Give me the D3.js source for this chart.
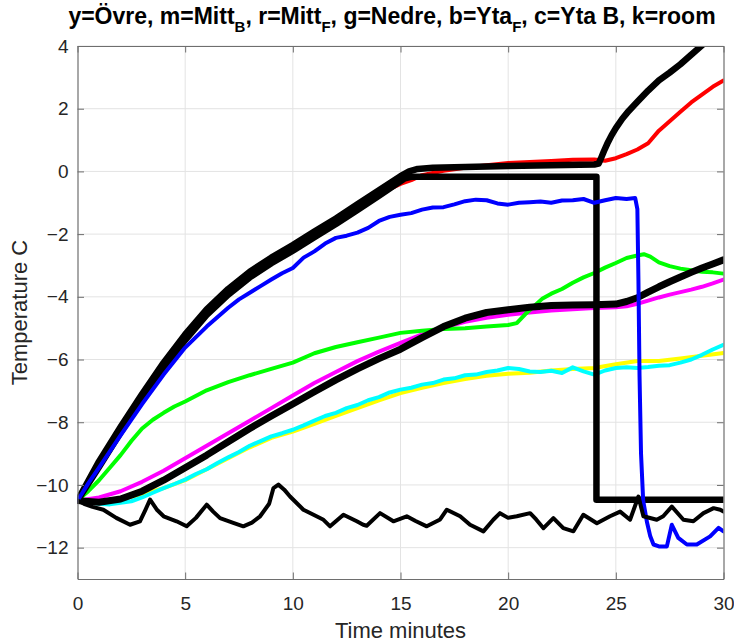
<!DOCTYPE html>
<html lang="en">
<head>
<meta charset="UTF-8">
<title>Temperature</title>
<script src="https://cdn.jsdelivr.net/npm/d3@7"></script>
<style>
    body { margin: 0; background: white; }
    svg { display: block; font-family: "Liberation Sans", Arial, sans-serif; }
    .tick text { fill: #262626; font-size: 19px; }
</style>
</head>
<body>
<script>
    // ---------- data (time in minutes, temperature in C) ----------
    const xTicks = [0, 5, 10, 15, 20, 25, 30];
    const yTicks = [-12, -10, -8, -6, -4, -2, 0, 2, 4];

    // y = Övre
    const yellowT = [0, 1, 2, 3, 4, 5, 6, 7, 8, 9, 10, 11, 12, 13, 14, 15, 16, 17, 18, 19, 20, 21, 22, 23, 24, 25, 26, 27, 28, 29, 30];
    const yellowV = [-10.5, -10.52, -10.45, -10.3, -10.1, -9.85, -9.5, -9.15, -8.8, -8.5, -8.3, -8.05, -7.8, -7.55, -7.3, -7.07, -6.9, -6.75, -6.62, -6.52, -6.45, -6.42, -6.35, -6.3, -6.27, -6.15, -6.05, -6.05, -5.97, -5.88, -5.79];

    // c = Yta B
    const cyanT = [0, 0.5, 1, 1.5, 2, 2.5, 3, 3.5, 4, 4.5, 5, 5.5, 6, 6.5, 7, 7.5, 8, 8.5, 9, 9.5, 10, 10.5, 11, 11.5, 12, 12.5, 13, 13.5, 14, 14.5, 15, 15.5, 16, 16.5, 17, 17.5, 18, 18.5, 19, 19.5, 20, 20.5, 21, 21.5, 22, 22.5, 23, 23.5, 24, 24.5, 25, 25.5, 26, 26.5, 27, 27.5, 28, 28.5, 29, 29.5, 30];
    const cyanV = [-10.5, -10.55, -10.6, -10.62, -10.57, -10.52, -10.4, -10.25, -10.1, -9.97, -9.83, -9.65, -9.5, -9.3, -9.12, -8.95, -8.75, -8.6, -8.45, -8.35, -8.24, -8.1, -7.95, -7.8, -7.7, -7.55, -7.45, -7.3, -7.2, -7.05, -6.96, -6.9, -6.8, -6.75, -6.64, -6.6, -6.5, -6.48, -6.4, -6.35, -6.27, -6.3, -6.38, -6.4, -6.36, -6.43, -6.25, -6.38, -6.48, -6.35, -6.27, -6.25, -6.27, -6.24, -6.2, -6.18, -6.1, -6.0, -5.85, -5.68, -5.53];

    // m = Mitt_B
    const magentaT = [0, 1, 2, 3, 4, 5, 6, 7, 8, 9, 10, 11, 12, 13, 14, 15, 16, 17, 18, 19, 20, 21, 22, 23, 24, 25, 25.5, 26, 26.5, 27, 27.5, 28, 28.5, 29, 29.5, 30];
    const magentaV = [-10.5, -10.4, -10.2, -9.9, -9.55, -9.15, -8.75, -8.35, -7.95, -7.55, -7.15, -6.75, -6.4, -6.05, -5.75, -5.47, -5.2, -4.98, -4.8, -4.67, -4.57, -4.5, -4.44, -4.4, -4.36, -4.33, -4.3, -4.22, -4.12, -4.02, -3.93, -3.85, -3.77, -3.68, -3.57, -3.45];

    // g = Nedre
    const greenT = [0, 0.5, 1, 1.5, 2, 2.5, 3, 3.5, 4, 4.5, 5, 6, 7, 8, 9, 10, 11, 12, 13, 14, 15, 16, 17, 18, 19, 20, 20.4, 20.8, 21.2, 21.6, 22, 22.5, 23, 23.5, 24, 24.5, 25, 25.5, 26, 26.3, 26.6, 27, 27.5, 28, 28.5, 29, 29.5, 30];
    const greenV = [-10.5, -10.2, -9.85, -9.45, -9.05, -8.6, -8.2, -7.92, -7.7, -7.5, -7.34, -6.98, -6.72, -6.5, -6.3, -6.1, -5.8, -5.6, -5.45, -5.3, -5.15, -5.08, -5.03, -5.0, -4.95, -4.9, -4.84, -4.55, -4.3, -4.05, -3.9, -3.75, -3.55, -3.38, -3.24, -3.07, -2.92, -2.76, -2.68, -2.64, -2.72, -2.9, -3.02, -3.1, -3.15, -3.2, -3.22, -3.26];

    // r = Mitt_F
    const redT = [0, 1, 2, 3, 4, 5, 6, 7, 8, 9, 10, 11, 12, 13, 14, 15, 15.5, 16, 17, 18, 19, 20, 21, 22, 23, 24, 24.5, 25, 25.5, 26, 26.5, 27, 27.5, 28, 28.5, 29, 29.5, 30];
    const redV = [-10.5, -9.34, -8.24, -7.19, -6.19, -5.29, -4.49, -3.84, -3.29, -2.84, -2.44, -2.01, -1.59, -1.14, -0.72, -0.4, -0.28, -0.12, 0.02, 0.12, 0.2, 0.27, 0.3, 0.33, 0.37, 0.38, 0.34, 0.42, 0.55, 0.7, 0.9, 1.3, 1.6, 1.9, 2.2, 2.45, 2.7, 2.9];

    // b = Yta_F
    const blueT = [0, 0.5, 1, 2, 3, 4, 5, 6, 7, 7.5, 8, 8.5, 9, 9.5, 10, 10.5, 11, 11.5, 12, 12.5, 13, 13.5, 14, 14.5, 15, 15.5, 16, 16.5, 17, 17.5, 18, 18.5, 19, 19.5, 20, 20.5, 21, 21.5, 22, 22.5, 23, 23.5, 24, 24.5, 25, 25.5, 25.9, 26.0, 26.05, 26.1, 26.17, 26.27, 26.45, 26.6, 26.75, 27.0, 27.37, 27.6, 27.9, 28.3, 28.76, 29.38, 29.77, 30];
    const blueV = [-10.5, -9.95, -9.45, -8.42, -7.42, -6.48, -5.62, -4.95, -4.35, -4.08, -3.87, -3.66, -3.45, -3.25, -3.08, -2.75, -2.55, -2.3, -2.12, -2.05, -1.95, -1.8, -1.58, -1.45, -1.38, -1.33, -1.22, -1.15, -1.14, -1.05, -0.95, -0.9, -0.92, -1.02, -1.06, -1.0, -0.98, -0.96, -1.0, -0.93, -0.92, -0.88, -1.0, -0.92, -0.85, -0.88, -0.85, -1.2, -3.5, -6.5, -9.0, -10.5, -11.2, -11.64, -11.9, -11.96, -11.96, -11.27, -11.69, -11.9, -11.9, -11.64, -11.37, -11.48];

    // black model curve following Mitt_B
    const modelBT = [0, 1, 2, 3, 4, 5, 6, 7, 8, 9, 10, 11, 12, 13, 14, 15, 16, 17, 18, 19, 20, 21, 22, 23, 24, 25, 25.5, 26, 26.5, 27, 27.5, 28, 28.5, 29, 29.5, 30];
    const modelBV = [-10.5, -10.55, -10.45, -10.2, -9.85, -9.45, -9.05, -8.62, -8.2, -7.8, -7.42, -7.03, -6.65, -6.3, -5.97, -5.67, -5.3, -4.95, -4.68, -4.5, -4.41, -4.33, -4.28, -4.26, -4.25, -4.23, -4.15, -4.03, -3.85, -3.68, -3.52, -3.37, -3.22, -3.08, -2.95, -2.82];

    // black model curve following Mitt_F
    const modelFT = [0, 1, 2, 3, 4, 5, 6, 7, 8, 9, 10, 11, 12, 13, 14, 15, 15.4, 15.8, 16.5, 18, 20, 22, 24, 24.2, 24.3, 24.45, 24.6, 24.8, 25, 25.3, 25.6, 26, 26.5, 27, 27.5, 28, 28.5, 29, 29.5, 30];
    const modelFV = [-10.5, -9.25, -8.15, -7.1, -6.1, -5.2, -4.4, -3.75, -3.2, -2.75, -2.35, -1.92, -1.5, -1.05, -0.6, -0.15, 0.0, 0.08, 0.12, 0.14, 0.17, 0.2, 0.22, 0.25, 0.4, 0.65, 0.88, 1.15, 1.38, 1.68, 1.93, 2.22, 2.58, 2.9, 3.15, 3.42, 3.72, 4.02, 4.32, 4.6];

    // black step line
    const stepT = [0, 1, 2, 3, 4, 5, 6, 7, 8, 9, 10, 11, 12, 13, 14, 14.7, 15.2, 15.5, 24.1, 24.1, 30];
    const stepV = [-10.5, -9.43, -8.33, -7.28, -6.28, -5.38, -4.58, -3.93, -3.38, -2.93, -2.53, -2.1, -1.68, -1.23, -0.78, -0.45, -0.22, -0.17, -0.17, -10.47, -10.47];

    // k = room
    const roomT = [0, 0.3, 0.7, 1.2, 1.8, 2.44, 2.9, 3.15, 3.37, 3.7, 4.0, 4.6, 5.07, 5.5, 6.0, 6.3, 6.62, 7.2, 7.7, 8.1, 8.48, 8.9, 9.1, 9.33, 9.6, 9.87, 10.49, 11.1, 11.4, 11.73, 12.35, 12.97, 13.27, 13.43, 14.05, 14.67, 15.29, 15.7, 16.22, 16.84, 17.15, 17.77, 18.23, 18.85, 19.31, 19.62, 20.0, 20.4, 21.02, 21.3, 21.64, 22.1, 22.56, 23.03, 23.49, 24.12, 24.73, 25.2, 25.66, 26.05, 26.28, 26.9, 27.2, 27.6, 28.14, 28.6, 29.07, 29.54, 29.85, 30];
    const roomV = [-10.5, -10.6, -10.7, -10.79, -11.05, -11.27, -11.16, -10.8, -10.47, -10.8, -11.0, -11.16, -11.32, -11.05, -10.63, -10.85, -11.06, -11.2, -11.32, -11.2, -11.0, -10.6, -10.1, -9.99, -10.15, -10.37, -10.79, -11.0, -11.1, -11.32, -10.95, -11.16, -11.27, -11.3, -10.9, -11.16, -11.0, -11.15, -11.32, -11.1, -10.79, -11.0, -11.27, -11.48, -11.11, -10.9, -11.05, -11.0, -10.9, -11.1, -11.38, -11.06, -11.38, -11.48, -10.95, -11.22, -11.0, -10.85, -11.11, -10.37, -11.0, -11.11, -11.0, -10.69, -11.11, -11.16, -10.9, -10.74, -10.79, -10.85];

    // ---------- layout ----------
    const W = 734, H = 643;
    const m = { left: 77.5, right: 723.5, top: 46, bottom: 579 };

    const x = d3.scaleLinear().domain([0, 30]).range([m.left, m.right]);
    const y = d3.scaleLinear().domain([-13, 4]).range([m.bottom, m.top]);

    const svg = d3.select("body").append("svg")
        .attr("width", W)
        .attr("height", H);

    svg.append("rect").attr("width", W).attr("height", H).attr("fill", "white");

    // grid
    const grid = svg.append("g");
    grid.selectAll(".gx").data(xTicks.slice(1, -1)).enter().append("line")
        .attr("x1", d => x(d)).attr("x2", d => x(d))
        .attr("y1", m.top).attr("y2", m.bottom)
        .attr("stroke", "#e3e3e3").attr("stroke-width", 1);
    grid.selectAll(".gy").data(yTicks).enter().append("line")
        .attr("x1", m.left).attr("x2", m.right)
        .attr("y1", d => y(d)).attr("y2", d => y(d))
        .attr("stroke", "#e3e3e3").attr("stroke-width", 1);

    // clip to axes box
    svg.append("clipPath").attr("id", "plotclip")
        .append("rect")
        .attr("x", m.left).attr("y", m.top)
        .attr("width", m.right - m.left).attr("height", m.bottom - m.top);

    const line = d3.line().x(d => x(d[0])).y(d => y(d[1]));
    const zip = (t, v) => t.map((d, i) => [d, v[i]]);

    const series = [
        { t: yellowT, v: yellowV, color: "#ffff00", w: 4 },
        { t: cyanT, v: cyanV, color: "#00ffff", w: 4 },
        { t: magentaT, v: magentaV, color: "#ff00ff", w: 4 },
        { t: greenT, v: greenV, color: "#00ff00", w: 4 },
        { t: redT, v: redV, color: "#ff0000", w: 4 },
        { t: modelBT, v: modelBV, color: "#000000", w: 7 },
        { t: modelFT, v: modelFV, color: "#000000", w: 6.5 },
        { t: stepT, v: stepV, color: "#000000", w: 6.5 },
        { t: blueT, v: blueV, color: "#0000ff", w: 4 },
        { t: roomT, v: roomV, color: "#000000", w: 4 }
    ];

    svg.append("g").attr("clip-path", "url(#plotclip)")
        .selectAll("path").data(series).enter().append("path")
        .attr("d", d => line(zip(d.t, d.v)))
        .attr("fill", "none")
        .attr("stroke", d => d.color)
        .attr("stroke-width", d => d.w)
        .attr("stroke-linejoin", "round")
        .attr("stroke-linecap", "round");

    // axes (box with inward ticks)
    const axisColor = "#6e6e6e";
    const xAxis = svg.append("g").attr("transform", `translate(0,${m.bottom})`)
        .call(d3.axisBottom(x).tickValues(xTicks).tickSizeInner(-6.5).tickSizeOuter(0).tickPadding(18));
    const yAxis = svg.append("g").attr("transform", `translate(${m.left},0)`)
        .call(d3.axisLeft(y).tickValues(yTicks).tickSizeInner(-6.5).tickSizeOuter(0).tickPadding(14));
    const xTop = svg.append("g").attr("transform", `translate(0,${m.top})`)
        .call(d3.axisTop(x).tickValues(xTicks).tickSizeInner(-6.5).tickSizeOuter(0).tickFormat(""));
    const yRight = svg.append("g").attr("transform", `translate(${m.right},0)`)
        .call(d3.axisRight(y).tickValues(yTicks).tickSizeInner(-6.5).tickSizeOuter(0).tickFormat(""));

    [xAxis, yAxis, xTop, yRight].forEach(a => {
        a.select(".domain").attr("stroke", axisColor).attr("stroke-width", 1.2);
        a.selectAll(".tick line").attr("stroke", axisColor);
        a.selectAll(".tick text").attr("font-family", "Liberation Sans, Arial, sans-serif");
    });
    yAxis.selectAll(".tick text").attr("dx", 5);

    // labels
    svg.append("text")
        .attr("x", (m.left + m.right) / 2).attr("y", 638)
        .attr("text-anchor", "middle")
        .attr("fill", "#262626").attr("font-size", 22)
        .text("Time minutes");

    svg.append("text")
        .attr("transform", `translate(27,${(m.top + m.bottom) / 2}) rotate(-90)`)
        .attr("text-anchor", "middle")
        .attr("fill", "#262626").attr("font-size", 22)
        .text("Temperature C");

    // title with subscripts
    const title = svg.append("text")
        .attr("x", 392).attr("y", 24)
        .attr("text-anchor", "middle")
        .attr("fill", "#000").attr("font-size", 23).attr("font-weight", "bold");
    const parts = [
        ["y=Övre, m=Mitt", false], ["B", true], [", r=Mitt", false], ["F", true],
        [", g=Nedre, b=Yta", false], ["F", true], [", c=Yta B, k=room", false]
    ];
    parts.forEach((p, i) => {
        const ts = title.append("tspan").text(p[0]);
        if (p[1]) ts.attr("font-size", 15).attr("dy", 8);
        else if (i > 0) ts.attr("dy", -8);
    });
</script>
</body>
</html>
